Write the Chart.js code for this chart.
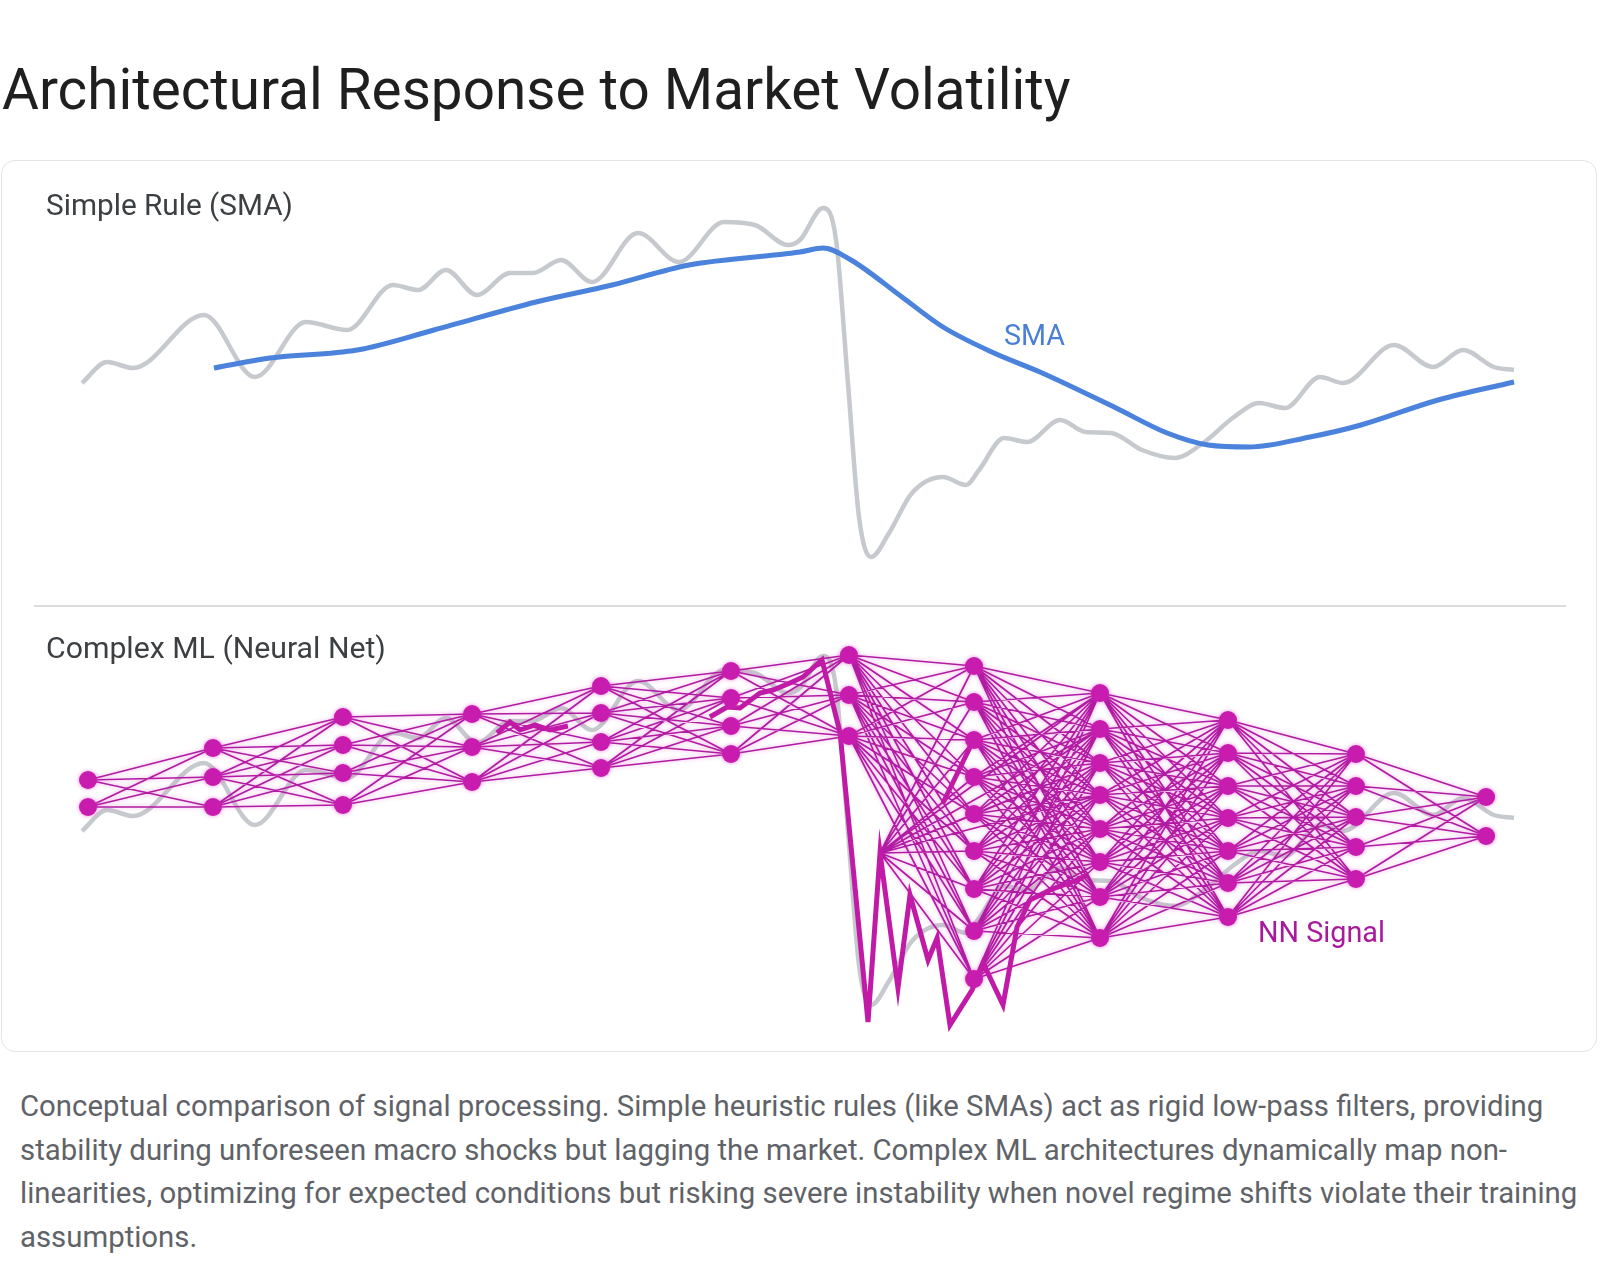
<!DOCTYPE html>
<html><head><meta charset="utf-8">
<script src="https://cdn.jsdelivr.net/npm/chart.js@4.4.1/dist/chart.umd.min.js"></script>
<style>
html,body{margin:0;padding:0;background:#fff;width:1600px;height:1268px;overflow:hidden;}
.txt{position:absolute;white-space:nowrap;font-family:Roboto,sans-serif;line-height:1;margin:0;font-weight:400}
#card{position:absolute;left:1px;top:160px;width:1596px;height:892px;border:1px solid #e4e4e4;border-radius:14px;box-sizing:border-box;}
#divider{position:absolute;left:34px;top:605px;width:1532px;height:2px;background:#dcdcdc}
canvas{position:absolute;left:0}
</style></head><body>
<div id="card"></div>
<div id="divider"></div>
<canvas id="topChart" width="1600" height="446" style="top:160px"></canvas>
<canvas id="botChart" width="1600" height="447" style="top:606px"></canvas>
<div class="txt" id="title">Architectural Response to Market Volatility</div>
<div class="txt" id="lblTop">Simple Rule (SMA)</div>
<div class="txt" id="lblBot">Complex ML (Neural Net)</div>
<div class="txt" id="lblSma">SMA</div>
<div class="txt" id="lblNn">NN Signal</div>
<div class="txt cap" id="cap1">Conceptual comparison of signal processing. Simple heuristic rules (like SMAs) act as rigid low-pass filters, providing</div>
<div class="txt cap" id="cap2">stability during unforeseen macro shocks but lagging the market. Complex ML architectures dynamically map non-</div>
<div class="txt cap" id="cap3">linearities, optimizing for expected conditions but risking severe instability when novel regime shifts violate their training</div>
<div class="txt cap" id="cap4">assumptions.</div>
<script>
// ---- Data (time index, value) ----
const priceTime = [0,1.74,3.56,8.51,12.07,15.63,18.49,21.70,23.45,25.40,27.56,29.87,31.47,33.43,35.59,38.80,41.66,44.80,46.96,49.27,50.10,51.71,52.62,53.45,54.22,55.06,56.32,57.92,60.08,61.69,62.60,64.34,65.95,68.25,70.06,71.81,73.97,76.27,78.23,80.39,82.14,83.95,86.39,88.00,91.56,94.28,96.37,98.53,99.93];
const priceValue = [54.25,59.5,58,71.25,55.75,69.5,67.5,78.75,77.5,82.5,76.25,81.75,81.75,85,79.5,91.75,84.5,94.5,93.75,88.75,90,98,90,54.25,20.75,10.75,16.75,26.75,30.75,28.75,32.5,40.5,39.5,45,42,41.75,37.5,35.5,39.25,45.75,49.25,48,55.75,54.25,63.75,58.25,62.5,58.25,57.5];

const smaTime = [9.21,13.12,19.19,24.56,31.68,36.99,42.36,50.10,51.71,53.66,57.22,60.08,63.64,66.85,72.16,75.72,78.58,81.44,85.69,89.25,94.63,99.93];
const smaValue = [58,60.5,62.5,67.5,74.5,78.75,83.75,87,88,85,75.75,68.25,61.75,57,48,41.75,38.75,38.25,40.75,43.75,50,54.5];

const nnTime = [28.96,29.87,30.57,31.61,32.66,33.91,38.0,43.82,45.01,45.92,47.31,48.22,49.41,50.31,51.64,52.90,54.85,55.69,56.94,57.78,59.04,59.67,60.57,62.11,62.88,64.27,65.25,66.15,67.55,69.43,70.13];
const nnValue = [78.75,81.5,79.5,80.75,79.5,80.5,null,82.75,85.25,85,88.75,89.5,91.25,92.75,97,78.75,6.5,48.75,15,38.25,22,27.5,5.75,14.5,21.25,10.75,30.25,37,39.5,42,43.25];
const nnSpurTime = [60.08,62.18];
const nnSpurValue = [61.25,76.75];
const hubIndex = 17; // spike of the NN signal that wires into the hidden layers

const layerTime = [0.42,9.14,18.21,27.22,36.22,45.29,53.52,62.25,71.04,79.97,88.90,97.98];
const layerNodes = [
  [67,60.25],
  [75,67.75,60.25],
  [82.75,75.75,68.75,60.75],
  [83.5,75.25,66.5],
  [90.5,83.75,76.5,70],
  [94.25,87.5,80.5,73.5],
  [98.25,88.25,78],
  [95.5,86.5,77,67.75,58.5,49.25,39.75,29.25,17.25],
  [88.75,79.75,71.25,63.25,54.75,46.5,37.75,27.5],
  [82,73.75,65.5,57.5,49.25,41.25,32.75],
  [73.5,65.5,57.75,50.25,42.25],
  [62.75,53]
];

const X_MIN = -5.722, X_MAX = 105.93;

// ---- build point tables ----
const zip = (t, v) => t.map((x, i) => ({x, y: v[i]}));
const pricePts = zip(priceTime, priceValue);
const smaPts = zip(smaTime, smaValue);
const nnPts = zip(nnTime, nnValue);
const spurPts = zip(nnSpurTime, nnSpurValue);
const nodePts = [];
layerNodes.forEach((arr, li) => arr.forEach(v => nodePts.push({x: layerTime[li], y: v})));
const edgePts = [];
for (let li = 0; li < layerNodes.length - 1; li++) {
  for (const a of layerNodes[li]) for (const b of layerNodes[li + 1]) {
    edgePts.push({x: layerTime[li], y: a}, {x: layerTime[li + 1], y: b}, {x: layerTime[li + 1], y: null});
  }
}
const hub = {x: nnTime[hubIndex], y: nnValue[hubIndex]};
layerNodes[7].forEach(v => edgePts.push(hub, {x: layerTime[7], y: v}, {x: layerTime[7], y: null}));
layerNodes[8].slice(0, 4).forEach(v => edgePts.push(hub, {x: layerTime[8], y: v}, {x: layerTime[8], y: null}));

const glow = {
  id: 'glow',
  beforeDatasetDraw(chart, args) {
    const ds = chart.data.datasets[args.index];
    chart.ctx.save();
    if (ds.glow) { chart.ctx.shadowColor = ds.glow; chart.ctx.shadowBlur = 4; }
  },
  afterDatasetDraw(chart) { chart.ctx.restore(); }
};

const baseOpts = (ymin, ymax) => ({
  responsive: false, animation: false, events: [],
  layout: {padding: 0, autoPadding: false},
  plugins: {legend: {display: false}, tooltip: {enabled: false}},
  scales: {
    x: {type: 'linear', display: false, min: X_MIN, max: X_MAX},
    y: {type: 'linear', display: false, min: ymin, max: ymax}
  }
});

new Chart(document.getElementById('topChart'), {
  type: 'scatter',
  data: {datasets: [
    {data: smaPts, showLine: true, borderColor: '#4a82dc', borderWidth: 5, pointRadius: 0, cubicInterpolationMode: 'monotone', borderCapStyle: 'butt', order: 0},
    {data: pricePts, showLine: true, borderColor: '#c6c9cd', borderWidth: 4.5, pointRadius: 0, cubicInterpolationMode: 'monotone', order: 1}
  ]},
  options: baseOpts(-1.5, 110)
});

new Chart(document.getElementById('botChart'), {
  type: 'scatter',
  data: {datasets: [
    {data: nodePts, showLine: false, pointRadius: 9, pointBackgroundColor: '#c81cae', pointBorderWidth: 0, glow: 'rgba(220,60,200,0.6)', order: 0},
    {data: nnPts, showLine: true, borderColor: '#c01aa6', borderWidth: 5, pointRadius: 0, tension: 0, spanGaps: false, borderJoinStyle: 'miter', order: 1},
    {data: spurPts, showLine: true, borderColor: '#c01aa6', borderWidth: 5, pointRadius: 0, tension: 0, order: 1},
    {data: edgePts, showLine: true, borderColor: '#b11ca3', borderWidth: 1.7, pointRadius: 0, tension: 0, spanGaps: false, glow: 'rgba(225,90,210,0.55)', order: 2},
    {data: pricePts, showLine: true, borderColor: '#c6c9cd', borderWidth: 4.5, pointRadius: 0, cubicInterpolationMode: 'monotone', order: 3}
  ]},
  options: baseOpts(-1.25, 110.5),
  plugins: [glow]
});

// ---- text placement ----
const mctx = document.createElement('canvas').getContext('2d');
function place(id, left, baseline, width, color, fixedFs) {
  const el = document.getElementById(id);
  const fam = 'Roboto';
  mctx.font = `400 100px ${fam}`;
  const w = mctx.measureText(el.textContent).width;
  const fs = fixedFs || 100 * width / w;
  mctx.font = `400 ${fs}px ${fam}`;
  const m = mctx.measureText(el.textContent);
  const asc = m.fontBoundingBoxAscent, desc = m.fontBoundingBoxDescent;
  const off = (fs - (asc + desc)) / 2 + asc;
  el.style.fontSize = fs + 'px';
  el.style.left = left + 'px';
  el.style.top = (baseline - off) + 'px';
  el.style.color = color;
  return fs;
}
place('title', 2, 110, 1069, '#1f1f1f');
place('lblTop', 46, 215, 247, '#3c4043');
place('lblBot', 46, 659, 340, '#3c4043');
place('lblSma', 1004, 345, 61, '#4a7fd6');
place('lblNn', 1258, 942, 127, '#a9199c');
const capFs = place('cap1', 20, 1117, 1524, '#5f6368');
place('cap2', 20, 1160.5, 0, '#5f6368', capFs);
place('cap3', 20, 1204, 0, '#5f6368', capFs);
place('cap4', 20, 1247.5, 0, '#5f6368', capFs);
</script>
</body></html>
